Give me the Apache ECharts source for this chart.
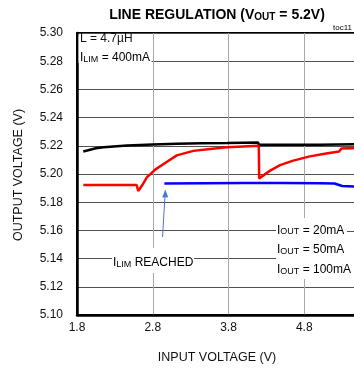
<!DOCTYPE html>
<html><head><meta charset="utf-8">
<script src="https://cdn.jsdelivr.net/npm/echarts@6/dist/echarts.min.js"></script>
<style>html,body{margin:0;padding:0;background:#fff}#c{width:354px;height:373px}</style>
</head><body><div id="c"></div>
<script>
// ---- data ----
const xTicks = [1.8, 2.8, 3.8, 4.8, 5.8];
const yTicks = [5.10, 5.12, 5.14, 5.16, 5.18, 5.20, 5.22, 5.24, 5.26, 5.28, 5.30];
const seriesNames = ['IOUT = 20mA', 'IOUT = 50mA', 'IOUT = 100mA'];

const vin20  = [1.883, 2.05, 2.15, 2.46, 2.80, 3.12, 3.45, 3.78, 4.19, 4.200, 4.6, 5.0, 5.24, 5.48];
const vout20 = [5.2160, 5.2182, 5.2190, 5.2202, 5.2210, 5.2215, 5.2218, 5.2220, 5.2224, 5.2208, 5.2208, 5.2208, 5.2210, 5.2212];

const vin50  = [1.883, 2.30, 2.588, 2.608, 2.66, 2.722, 2.832, 2.963, 3.117, 3.336, 3.556, 3.776, 3.99, 4.200, 4.205, 4.35, 4.48, 4.654, 4.874, 5.09, 5.26, 5.29, 5.48];
const vout50 = [5.1922, 5.1922, 5.1922, 5.1880, 5.1920, 5.1976, 5.2031, 5.2078, 5.2132, 5.2164, 5.2178, 5.2190, 5.2195, 5.2200, 5.1969, 5.2024, 5.2063, 5.2095, 5.2125, 5.2145, 5.2160, 5.2180, 5.2184];

const vin100  = [2.954, 3.5, 4.0, 4.5, 5.0, 5.2, 5.226, 5.30, 5.48];
const vout100 = [5.1933, 5.1935, 5.1936, 5.1937, 5.1935, 5.1933, 5.1928, 5.1915, 5.1910];

const colors = ['#000000', '#ff0000', '#0000ff'];
const textColors = ['#111111', '#ff2a2a', '#2a2aff'];

// ---- chart ----
const FONT = '"Liberation Sans", Arial, sans-serif';
const pairs = (xs, ys) => xs.map((x, i) => [x, ys[i]]);
const chart = echarts.init(document.getElementById('c'), null, {renderer: 'canvas'});

const subRich = (color, size) => ({
  n: {fontSize: size, color: color, fontFamily: FONT, lineHeight: 16, verticalAlign: 'bottom'},
  s: {fontSize: Math.round(size * 0.72), color: color, fontFamily: FONT, lineHeight: 11, verticalAlign: 'bottom'}
});

function legendText(i) {
  const parts = seriesNames[i].split(' = ');
  return '{n|I}{s|OUT}{n| = ' + parts[1] + '}';
}

chart.setOption({
  animation: false,
  backgroundColor: '#fff',
  grid: {left: 77, top: 33, right: -26, bottom: 58, show: true, borderColor: '#000', borderWidth: 2,
         containLabel: false, outerBoundsMode: 'none'},
  xAxis: {
    type: 'value', min: xTicks[0], max: xTicks[xTicks.length - 1], interval: 1,
    axisLine: {show: true, onZero: false, lineStyle: {color: '#000', width: 2.5}},
    axisTick: {show: false},
    axisLabel: {fontSize: 12, color: '#111', fontFamily: FONT, margin: 7, formatter: v => v.toFixed(1)},
    splitLine: {show: true, lineStyle: {color: '#a8a8a8', width: 1}}
  },
  yAxis: {
    type: 'value', min: yTicks[0], max: yTicks[yTicks.length - 1], interval: 0.02,
    axisLine: {show: true, onZero: false, lineStyle: {color: '#000', width: 2.5}},
    axisTick: {show: false},
    axisLabel: {fontSize: 12, color: '#111', fontFamily: FONT, margin: 14, formatter: v => v.toFixed(2)},
    splitLine: {show: true, lineStyle: {color: '#505050', width: 1}}
  },
  series: [
    {name: seriesNames[0], type: 'line', data: pairs(vin20, vout20), showSymbol: false, symbol: 'none', lineStyle: {color: colors[0], width: 2.5}, z: 3},
    {name: seriesNames[1], type: 'line', data: pairs(vin50, vout50), showSymbol: false, symbol: 'none', lineStyle: {color: colors[1], width: 2.5}, z: 4},
    {name: seriesNames[2], type: 'line', data: pairs(vin100, vout100), showSymbol: false, symbol: 'none', lineStyle: {color: colors[2], width: 2.5}, z: 5}
  ],
  graphic: [
    // title
    {type: 'text', x: 217, y: 13, z: 20, style: {
      text: '{b|LINE REGULATION (V}{bs|OUT}{b| = 5.2V)}', align: 'center', verticalAlign: 'middle',
      rich: {
        b: {fontSize: 14, fontWeight: 'bold', fontFamily: FONT, color: '#000', lineHeight: 18, verticalAlign: 'bottom'},
        bs: {fontSize: 10, fontWeight: 'bold', fontFamily: FONT, color: '#000', lineHeight: 12, verticalAlign: 'bottom'}
      }}},
    {type: 'text', x: 333, y: 28, z: 20, style: {text: 'toc11', fontSize: 8, fontFamily: FONT, fill: '#000', verticalAlign: 'middle'}},
    // axis names
    {type: 'text', x: 217, y: 358, z: 20, style: {text: 'INPUT VOLTAGE (V)', fontSize: 12.5, fontFamily: FONT, fill: '#111', align: 'center', verticalAlign: 'middle'}},
    {type: 'text', x: 19, y: 175, rotation: Math.PI / 2, z: 20, style: {text: 'OUTPUT VOLTAGE (V)', fontSize: 12.5, fontFamily: FONT, fill: '#111', align: 'center', verticalAlign: 'middle'}},
    // top-left note
    {type: 'rect', z: 15, shape: {x: 78.5, y: 34.5, width: 73, height: 28.5}, style: {fill: '#fff'}},
    {type: 'text', x: 80, y: 39, z: 20, style: {text: 'L = 4.7µH', fontSize: 12, fontFamily: FONT, fill: '#111', verticalAlign: 'middle'}},
    {type: 'text', x: 80, y: 56, z: 20, style: {
      text: '{n|I}{s|LIM}{n| = 400mA}', verticalAlign: 'middle', rich: subRich('#111', 12)}},
    // legend block
    {type: 'rect', z: 15, shape: {x: 276, y: 218, width: 78, height: 61}, style: {fill: '#fff'}},
    {type: 'rect', z: 15, shape: {x: 347, y: 231, width: 7, height: 1}, style: {fill: '#505050'}},
    {type: 'text', x: 277, y: 228.5, z: 20, style: {text: legendText(0), verticalAlign: 'middle', rich: subRich(textColors[0], 12)}},
    {type: 'text', x: 277, y: 248, z: 20, style: {text: legendText(1), verticalAlign: 'middle', rich: subRich(textColors[1], 12)}},
    {type: 'text', x: 277, y: 268, z: 20, style: {text: legendText(2), verticalAlign: 'middle', rich: subRich(textColors[2], 12)}},
    // ILIM reached
    {type: 'rect', z: 15, shape: {x: 112, y: 248, width: 82, height: 25}, style: {fill: '#fff'}},
    {type: 'text', x: 113, y: 261, z: 20, style: {text: '{n|I}{s|LIM}{n| REACHED}', verticalAlign: 'middle', rich: subRich('#2a2aff', 12)}},
    {type: 'line', z: 20, shape: {x1: 162.5, y1: 237, x2: 165, y2: 196}, style: {stroke: '#4a78d0', lineWidth: 1}},
    {type: 'polygon', z: 20, shape: {points: [[165.3, 189.5], [162.2, 197.5], [168.2, 197.3]]}, style: {fill: '#4a78d0'}}
  ]
});
</script></body></html>
